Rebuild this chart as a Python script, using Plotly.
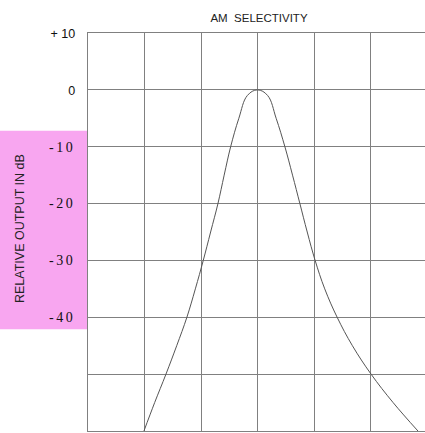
import plotly.graph_objects as go

# Frequency offset (grid units from centre) and relative output (dB)
offset = [-2.01, -1.82, -1.62, -1.43, -1.25, -1.10, -0.96, -0.83, -0.70, -0.59, -0.475, -0.33,
          -0.18, 0.0, 0.18, 0.33, 0.485, 0.62, 0.75, 0.88,
          1.02, 1.19, 1.41, 1.68, 2.01, 2.40, 2.84]
output_db = [-60, -55, -50, -45, -40, -35, -30, -25, -20, -15, -10, -5,
             -1.0, 0.0, -1.0, -5, -10, -15, -20, -25,
             -30, -35, -40, -45, -50, -55, -60]

tick_vals = [10, 0, -10, -20, -30, -40, -50, -60]
sans = '<span style="font-family:Liberation Sans;font-size:12.5px;letter-spacing:0px">{}</span>'
serif = '<span style="letter-spacing:2.5px">{}</span>'
tick_text = [sans.format("+ 10"), sans.format("0"),
             serif.format("-10"), serif.format("-20"), serif.format("-30"), serif.format("-40"), "", ""]

title_text = "AM&nbsp;&nbsp;SELECTIVITY"
ylabel_text = "RELATIVE OUTPUT IN dB"

fig = go.Figure()
fig.add_trace(go.Scatter(x=offset, y=output_db, mode="lines",
                         line=dict(color="#555555", width=1, shape="spline", smoothing=1.1),
                         hoverinfo="skip", showlegend=False))

W, H = 425, 433
ml, mt, mb, mr = 88, 33, 2, 0
pw = W - ml - mr
ph = H - mt - mb
unit = 56.5
x_max = -3 + pw / unit

fig.update_layout(
    width=W, height=H,
    margin=dict(l=ml, r=mr, t=mt, b=mb),
    paper_bgcolor="white", plot_bgcolor="white",
    title=dict(text=title_text, x=259 / W, xref="container", xanchor="center",
               y=1 - 18 / H, yref="container", yanchor="middle",
               font=dict(family="Liberation Sans", size=11.5, color="#222222")),
    xaxis=dict(range=[-3, x_max], tick0=0, dtick=1, showgrid=True, gridcolor="#808080",
               gridwidth=1, showticklabels=False, zeroline=False,
               showline=True, mirror=True, linecolor="#808080", linewidth=1, fixedrange=True),
    yaxis=dict(range=[-60, 10], tickvals=tick_vals, ticktext=tick_text, showgrid=True,
               gridcolor="#808080", gridwidth=1, zeroline=False, showline=True,
               linecolor="#808080", linewidth=1, ticks="", ticklabelstandoff=9,
               tickfont=dict(family="Liberation Serif", size=14, color="#111111"),
               fixedrange=True),
    shapes=[dict(type="rect", xref="paper", yref="y", x0=-ml / pw, x1=0, y0=-42.1, y1=-7.2,
                 fillcolor="#F8A6F0", line=dict(width=0), layer="below")],
    annotations=[dict(text=ylabel_text, xref="paper", yref="paper",
                      x=-(ml - 20) / pw, y=(H - mb - 229) / ph, xanchor="center", yanchor="middle",
                      textangle=-90, showarrow=False,
                      font=dict(family="Liberation Sans", size=12.5, color="#222222"))],
)

fig.write_html("out.html", config={"displayModeBar": False},
               post_script="document.body.style.margin='0';document.body.style.overflow='hidden';")
